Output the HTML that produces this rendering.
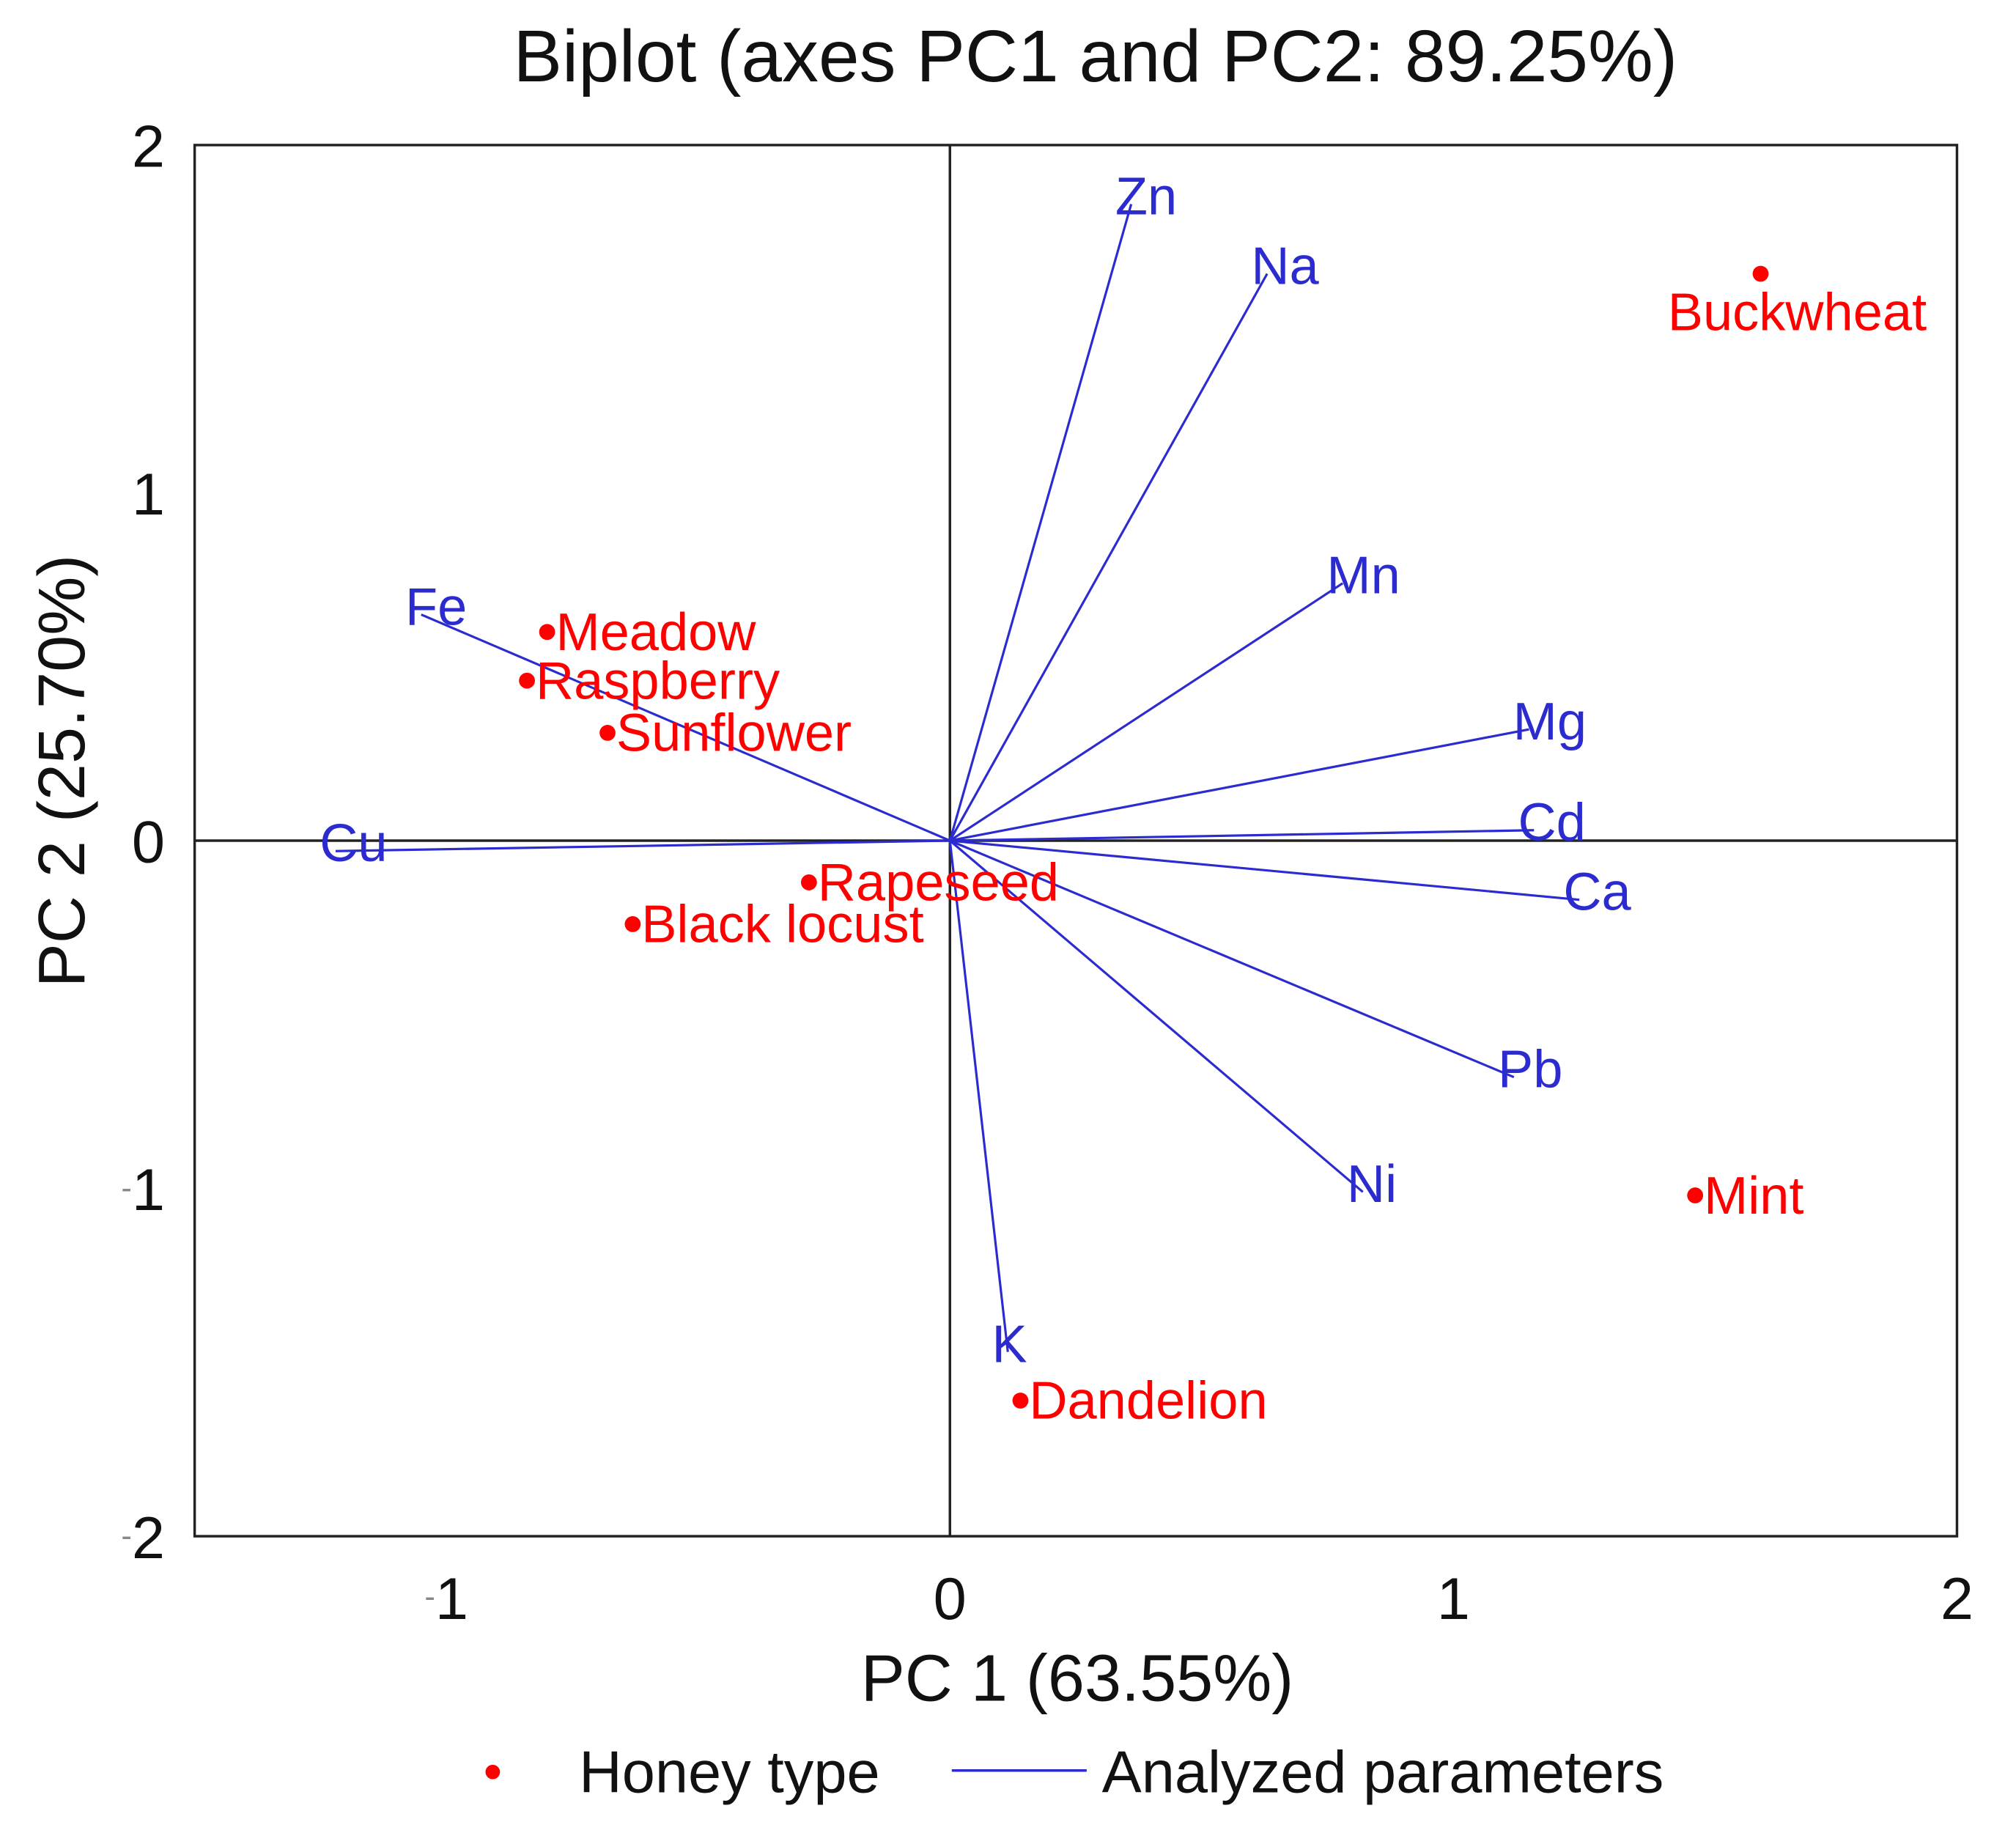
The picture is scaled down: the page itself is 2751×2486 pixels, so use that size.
<!DOCTYPE html>
<html><head><meta charset="utf-8"><style>
html,body{margin:0;padding:0;background:#fff;}
svg{display:block;font-family:"Liberation Sans",Arial,sans-serif;}
</style></head><body>
<svg id="chart" width="2751" height="2486" viewBox="0 0 2779 2512">
<text x="1510" y="112" font-size="101" text-anchor="middle" fill="#111">Biplot (axes PC1 and PC2: 89.25%)</text>
<g id="axes"></g>
<g id="vectors"></g>
<g id="points"></g>
<text x="1485" y="2345" font-size="91" text-anchor="middle" fill="#111">PC 1 (63.55%)</text>
<text transform="translate(116,1063) rotate(-90)" font-size="91" text-anchor="middle" fill="#111">PC 2 (25.70%)</text>
<g>
<circle cx="679" cy="2443" r="10" fill="#f00"/>
<text x="798" y="2471" font-size="82" fill="#111">Honey type</text>
<line x1="1312" y1="2441" x2="1498" y2="2441" stroke="#2b2bd0" stroke-width="3.5"/>
<text x="1519" y="2471" font-size="82" fill="#111">Analyzed parameters</text>
</g>
</svg>
<script>
const xTicks = [-1, 0, 1, 2];
const yTicks = [-2, -1, 0, 1, 2];
const paramNames = ["Zn","Na","Mn","Mg","Cd","Ca","Pb","Ni","K","Cu","Fe"];
const paramX = [0.36, 0.63, 0.78, 1.15, 1.16, 1.25, 1.12, 0.82, 0.115, -1.22, -1.05];
const paramY = [1.83, 1.63, 0.74, 0.32, 0.03, -0.17, -0.68, -1.01, -1.47, -0.03, 0.65];
const honeyNames = ["Buckwheat","Meadow","Raspberry","Sunflower","Rapeseed","Black locust","Mint","Dandelion"];
const honeyX = [1.61, -0.80, -0.84, -0.68, -0.28, -0.63, 1.48, 0.14];
const honeyY = [1.63, 0.60, 0.46, 0.31, -0.12, -0.24, -1.02, -1.61];

const NS = "http://www.w3.org/2000/svg";
const X0 = 268, X1 = 2698, Y0 = 200, Y1 = 2118;
const xMin = -1.5, xMax = 2, yMin = -2, yMax = 2;
function sx(v){ return X0 + (v - xMin) / (xMax - xMin) * (X1 - X0); }
function sy(v){ return Y1 - (v - yMin) / (yMax - yMin) * (Y1 - Y0); }
function mk(tag, attrs, parent){ const e = document.createElementNS(NS, tag); for (const k in attrs) e.setAttribute(k, attrs[k]); parent.appendChild(e); return e; }

const axes = document.getElementById("axes");
const frame = mk("rect", {x:X0, y:Y0, width:X1-X0, height:Y1-Y0, fill:"none", stroke:"#222", "stroke-width":3.5}, axes);


const zx = mk("line", {x1:X0, y1:sy(0), x2:X1, y2:sy(0), stroke:"#222", "stroke-width":3.5}, axes);


const zy = mk("line", {x1:sx(0), y1:Y0, x2:sx(0), y2:Y1, stroke:"#222", "stroke-width":3.5}, axes);



function tickText(t, x, y, anchor){
  const el = mk("text", {x:x, y:y, "font-size":82, "text-anchor":anchor, fill:"#111"}, axes);
  if (t < 0) {
    const m = document.createElementNS(NS, "tspan");
    m.setAttribute("font-size", "44"); m.setAttribute("fill", "#888"); m.setAttribute("dy", "-16");
    m.textContent = "-"; el.appendChild(m);
    const n = document.createElementNS(NS, "tspan");
    n.setAttribute("dy", "16"); n.textContent = String(-t); el.appendChild(n);
  } else el.textContent = String(t);
  return el;
}
xTicks.forEach(t => {
  const el = tickText(t, sx(t), 2232, "middle");
  
  
});
yTicks.forEach(t => {
  const el = tickText(t, 227, sy(t) + 30, "end");
  
  
});

const vg = document.getElementById("vectors");
paramNames.forEach((n, i) => {
  const ln = mk("line", {x1:sx(0), y1:sy(0), x2:sx(paramX[i]), y2:sy(paramY[i]), stroke:"#2b2bd0", "stroke-width":3.2}, vg);
  
  
  const tx = mk("text", {x:sx(paramX[i]) - 22, y:sy(paramY[i]) + 14, "font-size":73, fill:"#2b2bd0"}, vg);
  tx.textContent = n;
  
  
});

const pg = document.getElementById("points");
honeyNames.forEach((n, i) => {
  const cx = sx(honeyX[i]), cy = sy(honeyY[i]);
  const c = mk("circle", {cx:cx, cy:cy, r:11, fill:"#f00"}, pg);
  
  
  let t;
  if (i === 0) t = mk("text", {x:cx - 128, y:cy + 78, "font-size":73, fill:"#f00"}, pg);
  else t = mk("text", {x:cx + 12, y:cy + 25, "font-size":73, fill:"#f00"}, pg);
  t.textContent = n;
  
  
});
</script>
</body></html>
